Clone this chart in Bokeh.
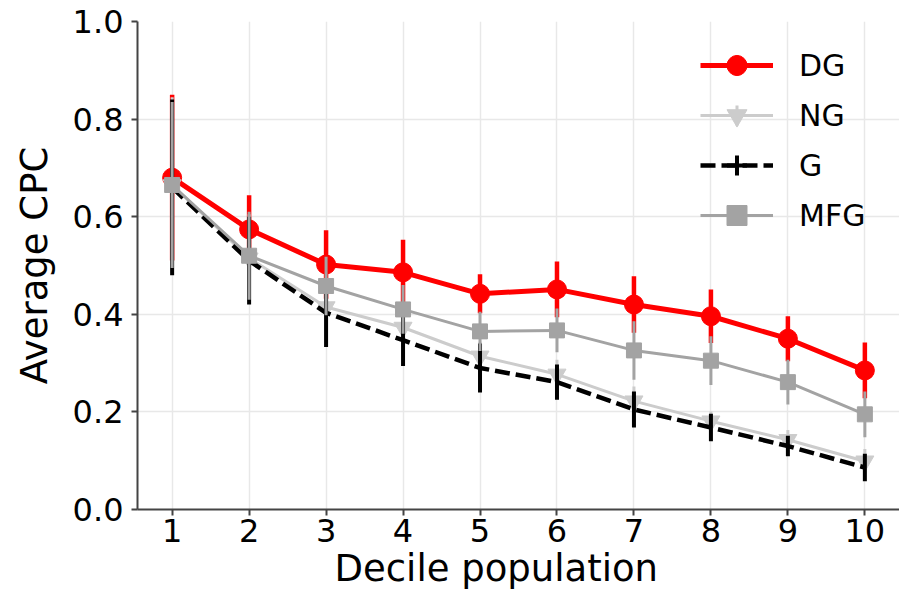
from bokeh.plotting import figure
from bokeh.models import FixedTicker, PrintfTickFormatter, Legend, LegendItem, ColumnDataSource, Title
from bokeh.embed import file_html
from bokeh.resources import INLINE

deciles = [1, 2, 3, 4, 5, 6, 7, 8, 9, 10]
y_ticks = [0.0, 0.2, 0.4, 0.6, 0.8, 1.0]

dg = [0.68, 0.574, 0.502, 0.486, 0.442, 0.451, 0.42, 0.396, 0.35, 0.285]
dg_err = [0.17, 0.07, 0.07, 0.067, 0.04, 0.057, 0.058, 0.055, 0.046, 0.057]

ng = [0.665, 0.515, 0.415, 0.373, 0.314, 0.277, 0.222, 0.181, 0.143, 0.099]
ng_err = [0.18, 0.09, 0.05, 0.04, 0.03, 0.03, 0.03, 0.02, 0.02, 0.025]

g = [0.66, 0.51, 0.403, 0.347, 0.29, 0.261, 0.205, 0.168, 0.13, 0.086]
g_err = [0.18, 0.09, 0.07, 0.053, 0.05, 0.036, 0.037, 0.028, 0.021, 0.028]

mfg = [0.665, 0.52, 0.458, 0.41, 0.365, 0.367, 0.326, 0.305, 0.261, 0.195]
mfg_err = [0.17, 0.09, 0.06, 0.05, 0.04, 0.045, 0.06, 0.05, 0.046, 0.047]

FONT = "DejaVu Sans"

p = figure(frame_width=762, frame_height=488, x_range=(0.55, 10.45), y_range=(0, 1),
           output_backend="svg", toolbar_location=None,
           min_border_left=137, min_border_top=21, min_border_right=0, min_border_bottom=0)
p.outline_line_color = None
p.background_fill_color = "white"

for ax in (p.xaxis, p.yaxis):
    ax.axis_line_color = "#444444"
    ax.axis_line_width = 2
    ax.major_tick_line_color = "#444444"
    ax.major_tick_line_width = 2
    ax.major_tick_out = 6
    ax.major_tick_in = 0
    ax.minor_tick_line_color = None
    ax.major_label_text_font = FONT
    ax.major_label_text_font_size = "32px"
    ax.major_label_text_color = "black"
    ax.axis_label_text_font = FONT
    ax.axis_label_text_font_size = "37px"
    ax.axis_label_text_font_style = "normal"
    ax.axis_label_text_color = "black"

p.xaxis.ticker = FixedTicker(ticks=deciles)
p.yaxis.ticker = FixedTicker(ticks=y_ticks)
p.yaxis.formatter = PrintfTickFormatter(format="%.1f")
p.yaxis.axis_label = "Average CPC"
p.xaxis.major_label_standoff = 3
p.yaxis.major_label_standoff = 8
p.yaxis.axis_label_standoff = 14

# x-axis title, placed as in the reference (slightly left of the frame centre)
xtitle = Title(text="Decile population", align="left", offset=197, standoff=0,
               text_font=FONT, text_font_size="37px", text_font_style="normal",
               text_color="black")
p.add_layout(xtitle, "below")

p.xgrid.grid_line_color = "#e8e8e8"
p.ygrid.grid_line_color = "#e8e8e8"
p.xgrid.grid_line_width = 1.5
p.ygrid.grid_line_width = 1.5

series = [
    ("DG", dg, dg_err, "#ff0000", "solid", 5, 4.5, "circle", 19),
    ("NG", ng, ng_err, "#cccccc", "solid", 3, 3, "inverted_triangle", 18),
    ("G", g, g_err, "#000000", "15 6", 4.5, 4, None, 0),
    ("MFG", mfg, mfg_err, "#a3a3a3", "solid", 3, 3, "square", 15),
]

items = []
for name, vals, errs, color, dash, lw, ew, marker, msize in series:
    lo = [v - e for v, e in zip(vals, errs)]
    hi = [v + e for v, e in zip(vals, errs)]
    src = ColumnDataSource(dict(x=deciles, y=vals, lo=lo, hi=hi))
    rs = []
    p.segment(x0="x", y0="lo", x1="x", y1="hi", source=src, line_color=color, line_width=ew)
    line = p.line("x", "y", source=src, line_color=color, line_width=lw, line_dash=dash)
    rs.append(line)
    # legend-only error-bar glyph (a cross), kept outside the visible ranges
    leg_bar = p.scatter(x=[-50.0], y=[-50.0], marker="cross",
                        size=34, line_color=color, line_width=ew)
    rs.append(leg_bar)
    if marker is not None:
        m = p.scatter("x", "y", source=src, marker=marker, size=msize,
                      fill_color=color, line_color=color, line_width=1)
        rs.append(m)
    items.append(LegendItem(label=name, renderers=rs))

legend = Legend(items=items, location=(563, 269))
legend.label_text_font = FONT
legend.label_text_font_size = "30px"
legend.label_text_color = "black"
legend.glyph_width = 73
legend.glyph_height = 50
legend.label_standoff = 26
legend.spacing = 0
legend.padding = 0
legend.margin = 0
legend.border_line_color = None
legend.background_fill_alpha = 0.0
p.add_layout(legend)

open("out.html", "w").write(file_html(p, INLINE))
